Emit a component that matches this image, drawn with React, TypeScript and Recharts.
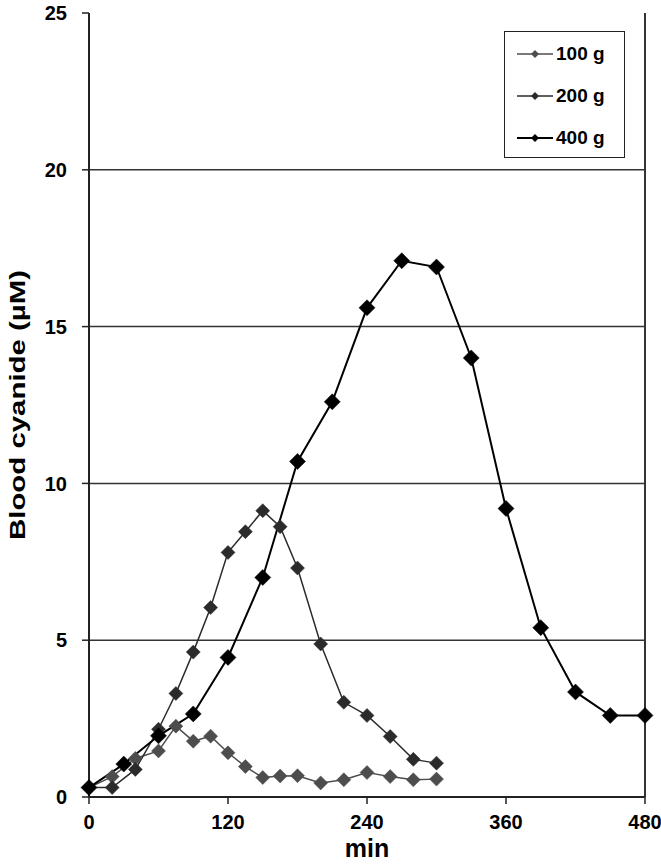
import { LineChart, Line, XAxis, YAxis, ReferenceLine, Legend } from 'recharts'

// sampling times (min)
const minutesLow = [0, 20, 40, 60, 75, 90, 105, 120, 135, 150, 165, 180, 200, 220, 240, 260, 280, 300]
const minutesHigh = [0, 30, 60, 90, 120, 150, 180, 210, 240, 270, 300, 330, 360, 390, 420, 450, 480]

// blood cyanide (µM) per dose
const cyanide100 = [0.3, 0.65, 1.23, 1.47, 2.26, 1.78, 1.94, 1.41, 0.97, 0.62, 0.67, 0.68, 0.45, 0.55, 0.78, 0.65, 0.55, 0.57]
const cyanide200 = [0.3, 0.3, 0.88, 2.16, 3.3, 4.62, 6.04, 7.8, 8.46, 9.13, 8.62, 7.3, 4.88, 3.02, 2.6, 1.93, 1.2, 1.08]
const cyanide400 = [0.3, 1.05, 1.95, 2.65, 4.45, 7.0, 10.7, 12.6, 15.6, 17.1, 16.9, 14.0, 9.2, 5.4, 3.35, 2.6, 2.6]

const xTicks = [0, 120, 240, 360, 480]
const yTicks = [0, 5, 10, 15, 20, 25]
const gridValues = [5, 10, 15, 20]

const FONT = '"Liberation Sans", Arial, sans-serif'

const toPoints = (ts: number[], vs: number[]) => ts.map((t, i) => ({ t, v: vs[i] }))

const series = [
  { name: '100 g', data: toPoints(minutesLow, cyanide100), color: '#4d4d4d', width: 1.5, r: 7 },
  { name: '200 g', data: toPoints(minutesLow, cyanide200), color: '#2b2b2b', width: 1.5, r: 7 },
  { name: '400 g', data: toPoints(minutesHigh, cyanide400), color: '#000000', width: 2, r: 8 },
]

const diamond = (r: number, fill: string) => (props: any) => {
  const { cx, cy, index } = props
  if (cx == null || cy == null) return <g key={index} />
  return (
    <polygon
      key={index}
      points={`${cx},${cy - r} ${cx + r},${cy} ${cx},${cy + r} ${cx - r},${cy}`}
      fill={fill}
      stroke={fill}
      strokeWidth={0.5}
    />
  )
}

const XTick = ({ x, y, payload }: any) => (
  <text x={x} y={y} dy="0.71em" textAnchor="middle" fontFamily={FONT} fontWeight="bold" fontSize={20} fill="#000">
    {payload.value}
  </text>
)

const YTick = ({ x, y, payload }: any) => (
  <text x={x} y={y} dy="0.355em" textAnchor="end" fontFamily={FONT} fontWeight="bold" fontSize={20} fill="#000">
    {payload.value}
  </text>
)

const XTitle = () => (
  <text x={367} y={857} textAnchor="middle" fontFamily={FONT} fontWeight="bold" fontSize={25} fill="#000">
    min
  </text>
)

const YTitle = () => (
  <text
    x={0}
    y={0}
    transform="translate(17,405) rotate(-90)"
    textAnchor="middle"
    dominantBaseline="central"
    fontFamily={FONT}
    fontWeight="bold"
    fontSize={22}
    textLength={270}
    lengthAdjust="spacingAndGlyphs"
    fill="#000"
  >
    Blood cyanide (µM)
  </text>
)

const LegendBox = () => (
  <div style={{ width: 121, height: 127, border: '1.5px solid #222', boxSizing: 'border-box', background: '#fff' }}>
    {series.map((s, i) => (
      <div key={s.name} style={{ display: 'flex', alignItems: 'center', height: 42, marginTop: i === 0 ? 1 : 0 }}>
        <svg width={50} height={14}>
          <line x1={12} y1={7} x2={48} y2={7} stroke={s.color} strokeWidth={s.width} />
          <polygon points="30,3 34,7 30,11 26,7" fill={s.color} />
        </svg>
        <span style={{ fontFamily: FONT, fontWeight: 'bold', fontSize: 19, color: '#000', marginLeft: 1 }}>{s.name}</span>
      </div>
    ))}
  </div>
)

export default function App() {
  return (
    <div style={{ position: 'absolute', left: 0, top: 0, background: '#fff' }}>
      <LineChart width={661} height={865} margin={{ top: 13, right: 16, bottom: 0, left: 0 }}>
        <XAxis
          type="number"
          dataKey="t"
          domain={[0, 480]}
          ticks={xTicks}
          interval={0}
          height={68}
          tickSize={7}
          tickMargin={11}
          tick={<XTick />}
          axisLine={{ stroke: '#222', strokeWidth: 2 }}
          tickLine={{ stroke: '#222', strokeWidth: 1.5 }}
          label={XTitle}
        />
        <YAxis
          type="number"
          domain={[0, 25]}
          ticks={yTicks}
          interval={0}
          width={89}
          tickSize={7}
          tickMargin={15}
          tick={<YTick />}
          axisLine={{ stroke: '#222', strokeWidth: 2 }}
          tickLine={{ stroke: '#222', strokeWidth: 1.5 }}
          label={YTitle}
        />
        {gridValues.map(g => (
          <ReferenceLine key={g} y={g} stroke="#333" strokeWidth={1.5} />
        ))}
        <ReferenceLine x={480} stroke="#333" strokeWidth={2} />
        {series.map(s => (
          <Line
            key={s.name}
            data={s.data}
            dataKey="v"
            name={s.name}
            stroke={s.color}
            strokeWidth={s.width}
            dot={diamond(s.r, s.color)}
            activeDot={false}
            isAnimationActive={false}
          />
        ))}
        <Legend
          layout="vertical"
          align="center"
          verticalAlign="middle"
          content={LegendBox}
          wrapperStyle={{ left: 504, top: 31, width: 121, height: 127 }}
        />
      </LineChart>
    </div>
  )
}
